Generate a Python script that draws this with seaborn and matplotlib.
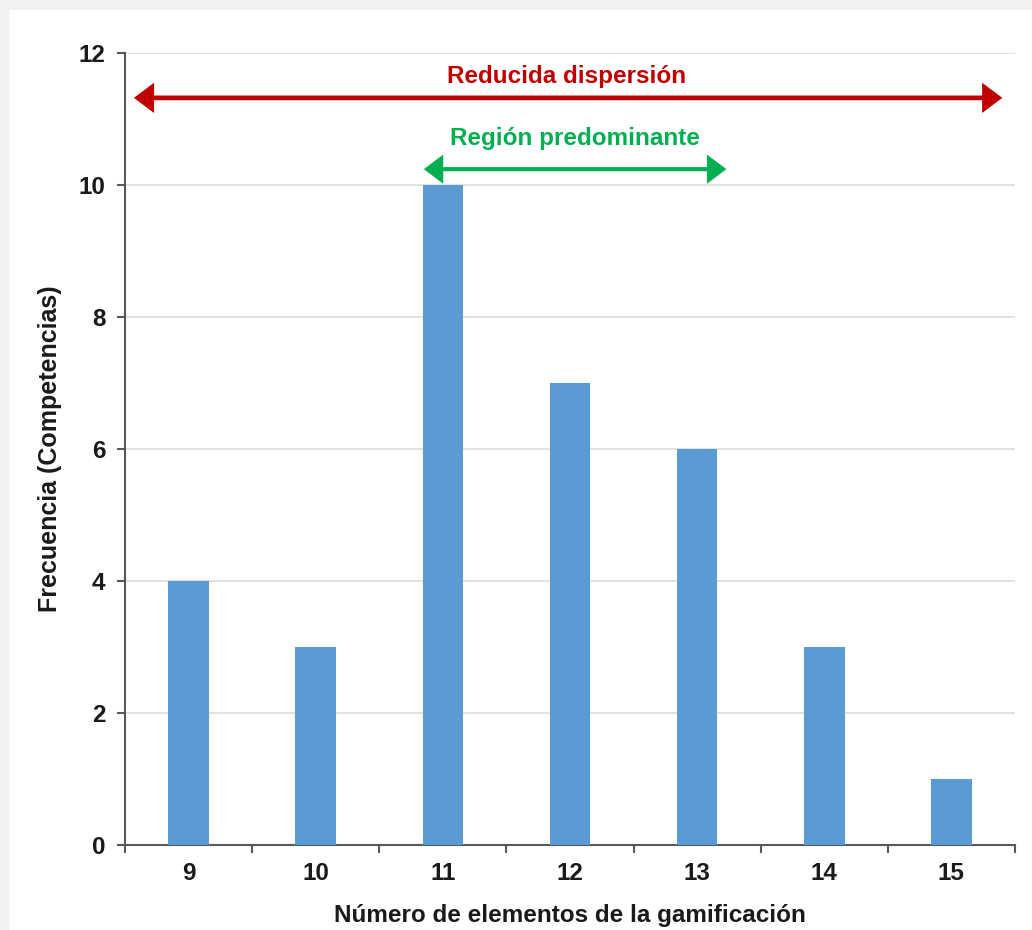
import matplotlib
matplotlib.use("Agg")
import matplotlib.pyplot as plt
import seaborn as sns
import pandas as pd
from matplotlib.patches import Rectangle, FancyArrowPatch, ArrowStyle

# datos del histograma
elementos = ["9", "10", "11", "12", "13", "14", "15"]
frecuencia = [4, 3, 10, 7, 6, 3, 1]

df = pd.DataFrame({"elementos": elementos, "frecuencia": frecuencia})

sns.set_style("white")
plt.rcParams['font.family'] = ['Liberation Sans', 'DejaVu Sans']
plt.rcParams['text.color'] = "#1a1a1a"
plt.rcParams['axes.labelcolor'] = "#1a1a1a"
plt.rcParams['xtick.labelcolor'] = "#1a1a1a"
plt.rcParams['ytick.labelcolor'] = "#1a1a1a"

fig = plt.figure(figsize=(10.32, 9.3), dpi=100)
fig.patch.set_facecolor("white")
# marco gris claro de la captura
fig.patches.append(Rectangle((0, 1 - 9 / 930), 1, 9 / 930, transform=fig.transFigure,
                             color="#f1f1f1", zorder=0))
fig.patches.append(Rectangle((0, 0), 8 / 1032, 1, transform=fig.transFigure,
                             color="#f1f1f1", zorder=0))

ax = fig.add_axes([125 / 1032, 85 / 930, 890 / 1032, 792 / 930])
sns.barplot(data=df, x="elementos", y="frecuencia", color="#5b9bd5",
            width=0.32, saturation=1, linewidth=0, ax=ax, zorder=3)

ax.set_ylim(0, 12)
ax.set_xlim(-0.5, len(elementos) - 0.5)
ax.set_yticks(range(0, 13, 2))
ax.yaxis.grid(True, color="#dcdcdc", linewidth=1.2, zorder=0)
ax.set_axisbelow(True)

for s in ["top", "right"]:
    ax.spines[s].set_visible(False)
for s in ["left", "bottom"]:
    ax.spines[s].set_color("#595959")
    ax.spines[s].set_linewidth(1.5)

ax.set_xticks([i + 0.5 for i in range(-1, len(elementos))], minor=True)
ax.tick_params(left=True, bottom=True, which="both")
ax.tick_params(axis="x", which="major", length=0, pad=12, labelsize=17.5)
ax.tick_params(axis="x", which="minor", length=6, width=1.5, color="#595959", direction="out")
ax.tick_params(axis="y", length=6, width=1.5, color="#595959", pad=8, labelsize=17.5)
for lab in ax.get_xticklabels() + ax.get_yticklabels():
    lab.set_fontweight("bold")

ax.set_xlabel("Número de elementos de la gamificación", fontsize=17.5, fontweight="bold", labelpad=14)
ax.set_ylabel("Frecuencia (Competencias)", fontsize=18, fontweight="bold", labelpad=12)

flecha = ArrowStyle("<|-|>", head_length=10, head_width=7.5)

# flecha roja
rojo = "#c00000"
ax.add_patch(FancyArrowPatch((-0.43, 11.32), (6.40, 11.32), arrowstyle=flecha,
                             mutation_scale=1, shrinkA=0, shrinkB=0,
                             facecolor=rojo, edgecolor=rojo, linewidth=3.4,
                             joinstyle="miter", capstyle="butt", zorder=5))
ax.text(2.97, 11.64, "Reducida dispersión", color=rojo, fontsize=17.5,
        fontweight="bold", ha="center", va="center")

# flecha verde
verde = "#00b050"
ax.add_patch(FancyArrowPatch((1.85, 10.24), (4.23, 10.24), arrowstyle=flecha,
                             mutation_scale=1, shrinkA=0, shrinkB=0,
                             facecolor=verde, edgecolor=verde, linewidth=3.0,
                             joinstyle="miter", capstyle="butt", zorder=5))
ax.text(3.04, 10.7, "Región predominante", color=verde, fontsize=17.5,
        fontweight="bold", ha="center", va="center")

fig.savefig("out.png", dpi=100)
